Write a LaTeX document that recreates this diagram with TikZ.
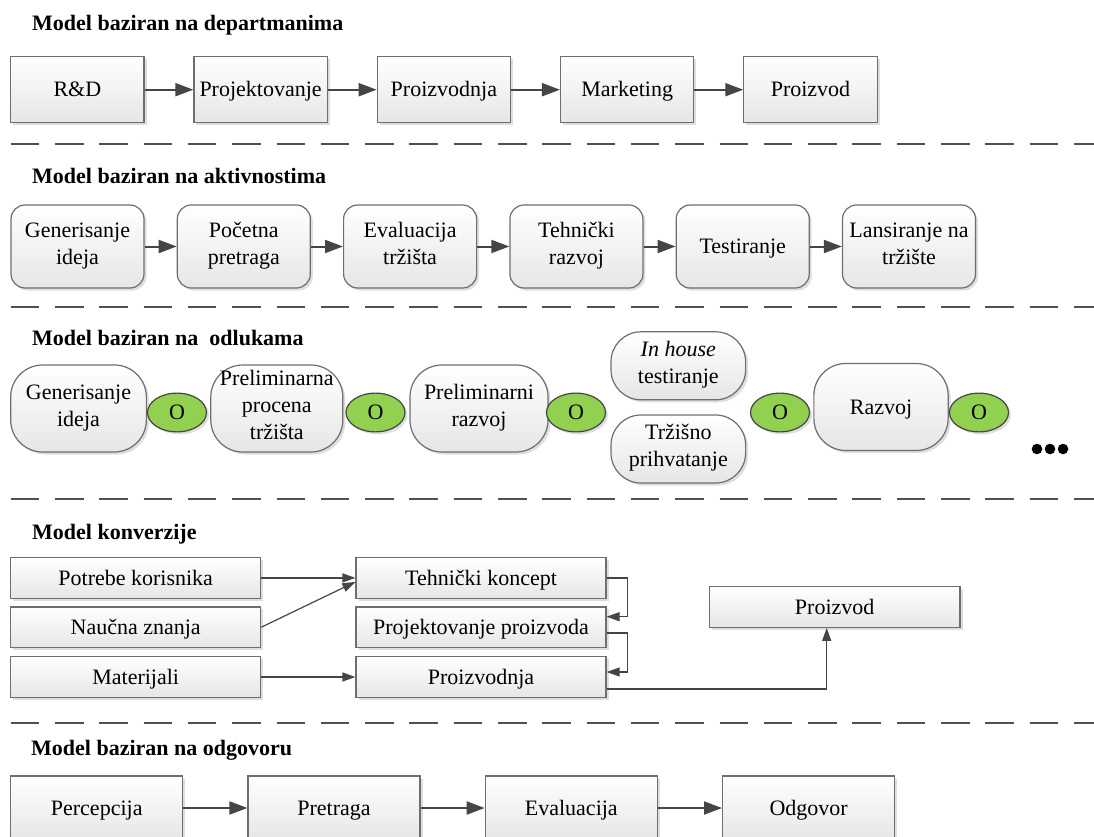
\documentclass[tikz,border=0pt]{standalone}
\usepackage{fontspec}
\setmainfont{Liberation Serif}
\usetikzlibrary{arrows.meta,shadows,shapes.geometric}

\definecolor{edge}{HTML}{6E6E6E}
\definecolor{link}{HTML}{454545}
\definecolor{boxbot}{HTML}{E6E6E6}
\definecolor{leaf}{HTML}{92D050}
\definecolor{rulecol}{HTML}{505050}

% strut that centres capital letters on the node centre
\newcommand\capstrut{\rule[-6.4pt]{0pt}{27.4pt}}

\tikzset{
  txt/.style={font=\fontsize{22}{27}\selectfont,
    execute at begin node=\capstrut, execute at end node=\capstrut},
  shade/.style={drop shadow={shadow xshift=2.5pt, shadow yshift=-2.5pt, fill=black!13, opacity=1}},
  base/.style={txt, shade, draw=edge, line width=1.2pt, top color=white, bottom color=boxbot,
    align=center, inner sep=0pt},
  sqbox/.style={base, minimum width=133.3pt, minimum height=66pt},
  rbox/.style={base, rounded corners=14pt, minimum width=133pt, minimum height=83pt},
  pill/.style={base, rounded corners=32pt, minimum height=87pt},
  smallpill/.style={base, rounded corners=30pt, minimum width=134.6pt, minimum height=68pt},
  gate/.style={txt, shade, ellipse, draw=link, line width=1.2pt, fill=leaf,
    minimum width=59pt, minimum height=38pt, inner sep=0pt},
  wbox/.style={base, minimum width=250pt, minimum height=40.5pt},
  lbox/.style={base, minimum width=172pt, minimum height=64pt},
  flow/.style={draw=link, line width=2pt, -{Triangle[length=18pt,width=13pt]}},
  thinflow/.style={draw=link, line width=1.2pt, -{Triangle[length=13pt,width=9pt]}},
  title/.style={anchor=base west, inner sep=0pt, font=\fontsize{22}{27}\selectfont\bfseries},
  sep/.style={draw=rulecol, line width=2pt, dash pattern=on 28.5pt off 15.8pt},
}

\begin{document}
\begin{tikzpicture}[x=1pt, y=-1pt]
\path[use as bounding box, clip] (0,0) rectangle (1094,837);

% ---------- departments ----------
\node[title] (t1) at (32,31) {Model baziran na departmanima};
\node[sqbox] (d1) at (77.4,89.7)  {R\&D};
\node[sqbox] (d2) at (260.6,89.7) {Projektovanje};
\node[sqbox] (d3) at (443.9,89.7) {Proizvodnja};
\node[sqbox] (d4) at (627.2,89.7) {Marketing};
\node[sqbox] (d5) at (810.5,89.7) {Proizvod};
\foreach \a/\b in {d1/d2,d2/d3,d3/d4,d4/d5} \draw[flow] (\a) -- (\b);
\draw[sep] (10.7,144) -- (1094,144);

% ---------- activities ----------
\node[title] (t2) at (32,183) {Model baziran na aktivnostima};
\node[rbox] (a1) at (77.5,246.5)  {Generisanje\\ideja};
\node[rbox] (a2) at (243.8,246.5) {Početna\\pretraga};
\node[rbox] (a3) at (410.1,246.5) {Evaluacija\\tržišta};
\node[rbox] (a4) at (576.4,246.5) {Tehnički\\razvoj};
\node[rbox] (a5) at (742.7,246.5) {Testiranje};
\node[rbox] (a6) at (909.0,246.5) {Lansiranje na\\tržište};
\foreach \a/\b in {a1/a2,a2/a3,a3/a4,a4/a5,a5/a6} \draw[flow] (\a) -- (\b);
\draw[sep] (10.7,307) -- (1094,307);

% ---------- decisions ----------
\node[title] (t3) at (32,345) {Model baziran na \ odlukama};
\node[pill, minimum width=135.7pt] (s1) at (78.5,408.5) {Generisanje\\ideja};
\node[gate] (g1) at (177,412.5) {O};
\node[pill, minimum width=132pt] (s2) at (276.8,408.5) {Preliminarna\\procena\\tržišta};
\node[gate] (g2) at (375.5,412.5) {O};
\node[pill, minimum width=138pt] (s3) at (479,408.5) {Preliminarni\\razvoj};
\node[gate] (g3) at (576,412.5) {O};
\node[smallpill] (s4) at (678.3,365.8) {\textit{In house}\\testiranje};
\node[smallpill] (s5) at (678.3,449) {Tržišno\\prihvatanje};
\node[gate] (g4) at (780,412.5) {O};
\node[pill, minimum width=134.3pt] (s6) at (881,407) {Razvoj};
\node[gate] (g5) at (979,412.5) {O};
\foreach \x in {1037,1050,1063} \fill[black] (\x,449) circle (5.3pt);
\draw[sep] (10.7,499) -- (1094,499);

% ---------- conversion ----------
\node[title] (t4) at (32,539) {Model konverzije};
\node[wbox] (pk) at (135.7,577.9) {Potrebe korisnika};
\node[wbox] (nz) at (135.7,627.2) {Naučna znanja};
\node[wbox] (mt) at (135.7,677)   {Materijali};
\node[wbox] (tk) at (481,577.9)   {Tehnički koncept};
\node[wbox] (pp) at (481,627.2)   {Projektovanje proizvoda};
\node[wbox] (pr) at (481,677)     {Proizvodnja};
\node[wbox, minimum width=250.7pt, minimum height=40.6pt] (po) at (834.7,607) {Proizvod};
\draw[thinflow] (pk.east) -- (tk.west);
\draw[thinflow] (nz.east) -- ([yshift=-4pt]tk.west);
\draw[thinflow] (mt.east) -- (pr.west);
\draw[thinflow] (tk.east) -- ++(20.7,0) |- ([yshift=10.5pt]pp.east);
\draw[thinflow] ([yshift=-5.8pt]pp.east) -- ++(20.7,0) |- ([yshift=5pt]pr.east);
\draw[thinflow] ([yshift=-12pt]pr.east) -| ([xshift=-8pt]po.south);
\draw[sep] (10.7,722.7) -- (1094,722.7);

% ---------- response ----------
\node[title] (t5) at (31,755) {Model baziran na odgovoru};
\node[lbox] (r1) at (96.7,808)  {Percepcija};
\node[lbox] (r2) at (334,808)   {Pretraga};
\node[lbox] (r3) at (571.3,808) {Evaluacija};
\node[lbox] (r4) at (808.6,808) {Odgovor};
\foreach \a/\b in {r1/r2,r2/r3,r3/r4} \draw[flow] (\a) -- (\b);
\end{tikzpicture}
\end{document}
